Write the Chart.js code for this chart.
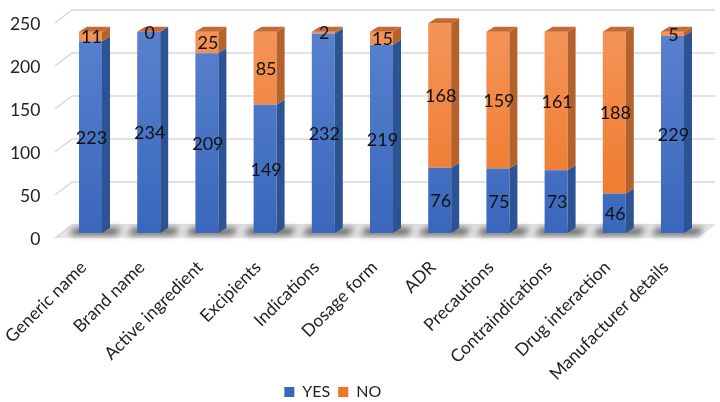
<!DOCTYPE html>
<html><head><meta charset="utf-8">
<script src="https://cdn.jsdelivr.net/npm/chart.js@4.4.1/dist/chart.umd.min.js"></script>
<style>html,body{margin:0;padding:0;background:#fff}</style>
</head><body><canvas id="c" width="720" height="402"></canvas>
<script>
const categories = ['Generic name','Brand name','Active ingredient','Excipients','Indications','Dosage form','ADR','Precautions','Contraindications','Drug interaction','Manufacturer details'];
const yesValues = [223,234,209,149,232,219,76,75,73,46,229];
const noValues = [11,0,25,85,2,15,168,159,161,188,5];
const yTicks = [0,50,100,150,200,250];
const seriesNames = ['YES','NO'];

const FONT = 'Lato, "Liberation Sans", sans-serif';
const DX = 8, DY = -5;           // bar depth
const WALL_DX = 17, FRONT = 5, BACK = -8;
const LEGEND_SHIFT_X = -18, LEGEND_SHIFT_Y = 8;

function grad(ctx, area, top, bottom){
  if(!area) return bottom;
  const g = ctx.createLinearGradient(0, area.top, 0, area.bottom);
  g.addColorStop(0, top); g.addColorStop(1, bottom);
  return g;
}

const threeD = {
  id:'threeD',
  afterLayout(chart){
    const lg = chart.legend;
    if (lg) {
      lg.left += LEGEND_SHIFT_X; lg.right += LEGEND_SHIFT_X;
      lg.top += LEGEND_SHIFT_Y; lg.bottom += LEGEND_SHIFT_Y;
    }
    // let the rotated category labels run below the axis box (no clipping)
    chart.scales.x.bottom = chart.height;
  },
  beforeDatasetsDraw(chart){
    const ctx = chart.ctx, ys = chart.scales.y, area = chart.chartArea;
    const left = area.left - 6.4, right = 715;
    ctx.save();
    const p0 = ys.getPixelForValue(0);
    // floor
    ctx.fillStyle = '#E6E6E6';
    ctx.beginPath();
    ctx.moveTo(left, p0+FRONT); ctx.lineTo(left+WALL_DX, p0+BACK);
    ctx.lineTo(right, p0+BACK); ctx.lineTo(right-WALL_DX, p0+FRONT); ctx.closePath(); ctx.fill();
    // grid
    ctx.strokeStyle = '#D9D9D9'; ctx.lineWidth = 1.5;
    yTicks.forEach(v => {
      const p = ys.getPixelForValue(v);
      ctx.beginPath();
      ctx.moveTo(left, p+FRONT); ctx.lineTo(left+WALL_DX, p+BACK); ctx.lineTo(right, p+BACK);
      ctx.stroke();
    });
    // shadows
    const meta = chart.getDatasetMeta(0);
    ctx.filter = 'blur(3px)';
    ctx.fillStyle = 'rgba(70,70,70,0.85)';
    meta.data.forEach(el => {
      const {x, width} = el.getProps(['x','width'], true);
      const l = x - width/2 - 10, r = x + width/2 + DX + 12;
      ctx.beginPath();
      ctx.moveTo(l, p0+2); ctx.lineTo(l+6, p0-5); ctx.lineTo(r, p0-5); ctx.lineTo(r-6, p0+2); ctx.closePath();
      ctx.fill();
    });
    ctx.filter = 'none';
    ctx.restore();
  },
  afterDatasetsDraw(chart){
    const ctx = chart.ctx;
    const m0 = chart.getDatasetMeta(0), m1 = chart.getDatasetMeta(1);
    ctx.save();
    const sides = ['#2C5394', '#B5612C'];
    [m0, m1].forEach((meta, di) => {
      meta.data.forEach(el => {
        const {x, y, base, width} = el.getProps(['x','y','base','width'], true);
        const r = x + width/2;
        ctx.fillStyle = sides[di];
        ctx.beginPath();
        ctx.moveTo(r, y); ctx.lineTo(r+DX, y+DY); ctx.lineTo(r+DX, base+DY); ctx.lineTo(r, base); ctx.closePath();
        ctx.fill();
      });
    });
    // tops
    m1.data.forEach(el => {
      const {x, y, width} = el.getProps(['x','y','width'], true);
      const l = x - width/2, r = x + width/2;
      ctx.fillStyle = '#C46A34';
      ctx.beginPath();
      ctx.moveTo(l, y); ctx.lineTo(l+DX, y+DY); ctx.lineTo(r+DX, y+DY); ctx.lineTo(r, y); ctx.closePath();
      ctx.fill();
    });
    // labels
    ctx.fillStyle = '#111';
    ctx.font = '18px ' + FONT;
    ctx.textAlign = 'center'; ctx.textBaseline = 'middle';
    [m0, m1].forEach((meta, di) => {
      const vals = di === 0 ? yesValues : noValues;
      meta.data.forEach((el, i) => {
        const {x, y, base} = el.getProps(['x','y','base'], true);
        ctx.fillText(String(vals[i]), x + 1, (y + base)/2 + 1);
      });
    });
    ctx.restore();
  }
};

new Chart(document.getElementById('c'), {
  type: 'bar',
  data: {
    labels: categories,
    datasets: [
      { label: seriesNames[0], data: yesValues,
        backgroundColor: c => grad(c.chart.ctx, c.chart.chartArea, '#5A83CF', '#3A67BC') },
      { label: seriesNames[1], data: noValues,
        backgroundColor: c => grad(c.chart.ctx, c.chart.chartArea, '#F4955A', '#EE7626') }
    ]
  },
  options: {
    responsive: false, animation: false,
    layout: { padding: { left: 0, right: 18.4, top: 18, bottom: 0 } },
    datasets: { bar: { categoryPercentage: 1, barPercentage: 0.395, borderWidth: 0 } },
    scales: {
      x: { stacked: true, grid: { display: false, drawTicks: false }, border: { display: false },
           ticks: { minRotation: 45, maxRotation: 45, color: '#222', font: { family: FONT, size: 17.5 }, padding: 24, labelOffset: -7 },
           afterFit: s => { s.height = 135; s.paddingLeft = 0; s.paddingRight = 0; } },
      y: { stacked: true, min: 0, max: 250, grid: { display: false, drawTicks: false }, border: { display: false },
           ticks: { stepSize: 50, color: '#222', font: { family: FONT, size: 17.5 }, padding: 21, labelOffset: 6 },
           afterFit: s => { s.width = 61.4; s.paddingTop = 0; s.paddingBottom = 0; } }
    },
    plugins: {
      legend: { position: 'bottom', labels: { boxWidth: 10, boxHeight: 10, color: '#222', font: { family: FONT, size: 16 }, padding: 8 } },
      tooltip: { enabled: false }
    }
  },
  plugins: [threeD]
});
</script>
</body></html>
